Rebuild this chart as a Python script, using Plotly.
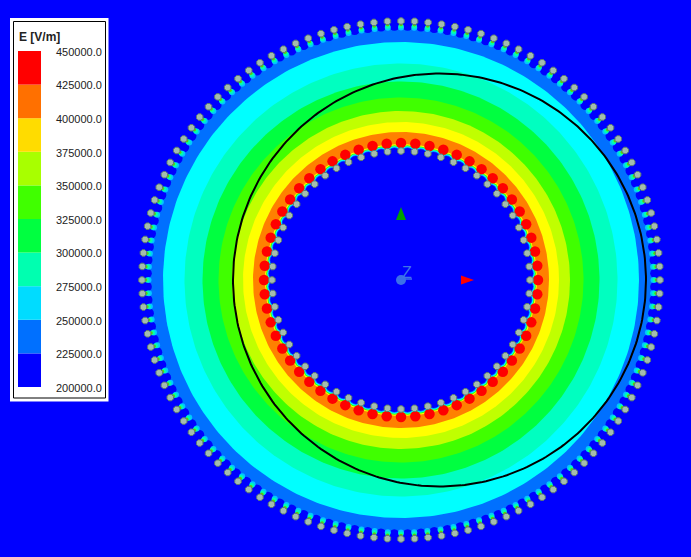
import numpy as np
import plotly.graph_objects as go

# Colour key
level_low = [200000, 225000, 250000, 275000, 300000, 325000, 350000, 375000, 400000, 425000]
level_colors = ["#0000ff", "#0070ff", "#00dcff", "#00ffb0", "#00ff40", "#40ff00", "#a8ff00", "#ffdc00", "#ff7000", "#ff0000"]
level_ticks = [200000, 225000, 250000, 275000, 300000, 325000, 350000, 375000, 400000, 425000, 450000]
label_nudge = 750  # labels sit about a pixel under their colour-band edges

# Field bands: outer radius (px in the view) of each filled ring, outermost first
band_radii = [254, 238, 216.5, 198.5, 182.5, 169, 158, 148]
band_colors = ["#0070ff", "#00ffff", "#00ffc0", "#00ff40", "#40ff00", "#c0ff00", "#ffff00", "#ff8000"]
hole_radius = 127
center = (401, 280)

# Tooth rings
outer_count = 120
outer_radius = 259
inner_count = 60
inner_gray_radius = 129
inner_red_radius = 137

# Overlaid outline
ring_center = (439.5, 280)
ring_radius = 206.5

# Triad arrow heads and Z stem: x list, y list
green_head = ([396, 401, 406], [220, 207, 220])
red_head = ([461, 474, 461], [275.5, 280, 284.5])
z_stem = ([401, 412], [279, 279])

W, H = 691, 557


def circle(c, r):
    t = np.linspace(0, 2 * np.pi, 361)
    return c[0] + r * np.cos(t), c[1] + r * np.sin(t)


def spokes(c, r, n, offset=0.0):
    t = np.pi / 2 + (np.arange(n) + offset) * 2 * np.pi / n
    return c[0] + r * np.cos(t), c[1] - r * np.sin(t)


def poly(x, y, color):
    return go.Scatter(x=x, y=y, mode="lines", fill="toself", fillcolor=color,
                      line=dict(width=0), hoverinfo="skip", showlegend=False)


def disc(c, r, color):
    x, y = circle(c, r)
    return poly(x, y, color)


def dots(xy, size, color, symbol="circle", line=None):
    return go.Scatter(x=xy[0], y=xy[1], mode="markers", hoverinfo="skip", showlegend=False,
                      marker=dict(size=size, color=color, symbol=symbol,
                                  line=line or dict(width=0)))


fig = go.Figure()

for r, col in zip(band_radii, band_colors):
    fig.add_trace(disc(center, r, col))

# outer notches between teeth
fig.add_trace(dots(spokes(center, 254.5, outer_count, 0.5), 10.5, "#0000ff"))
# outer tooth tips
fig.add_trace(dots(spokes(center, 252.5, outer_count), 6, "#00c8ff"))
fig.add_trace(dots(spokes(center, 254, outer_count), 5, "#00ffb0"))
fig.add_trace(dots(spokes(center, 255.5, outer_count), 3.5, "#60d000"))

# inner scallops between slots
scallop_r = 126
for d, col in zip([20, 18, 16, 14], ["#ffff00", "#40ff00", "#00ffff", "#0070ff"]):
    fig.add_trace(dots(spokes(center, scallop_r, inner_count, 0.5), d, col))
fig.add_trace(disc(center, hole_radius, "#0000ff"))
fig.add_trace(dots(spokes(center, scallop_r, inner_count, 0.5), 12.5, "#0000ff"))

fig.add_trace(dots(spokes(center, inner_red_radius, inner_count), 10.5, "#ff0000"))
gray_line = dict(width=1, color="#5c7a70")
fig.add_trace(dots(spokes(center, inner_gray_radius, inner_count), 7, "#a4bcae", "octagon", gray_line))
fig.add_trace(dots(spokes(center, outer_radius, outer_count), 7, "#a4bcae", "octagon", gray_line))

# Outline circle
x, y = circle(ring_center, ring_radius)
fig.add_trace(go.Scatter(x=x, y=y, mode="lines", line=dict(color="#000000", width=2),
                         hoverinfo="skip", showlegend=False))

# Triad
fig.add_trace(poly(green_head[0], green_head[1], "#00a000"))
fig.add_trace(poly(red_head[0], red_head[1], "#ff0000"))
fig.add_trace(go.Scatter(x=z_stem[0], y=z_stem[1], mode="lines", line=dict(color="#3f74e8", width=1.5),
                         hoverinfo="skip", showlegend=False))
fig.add_trace(dots(([401], [280]), 10, "#3c70e8"))
fig.add_trace(go.Scatter(x=[407], y=[273.5], mode="text", text=["Z"], hoverinfo="skip", showlegend=False,
                         textfont=dict(family="Liberation Sans", size=16, color="#3f74e8")))

# Colour key as a stacked bar on its own axes
fig.add_trace(go.Bar(x=[0] * len(level_low), y=[25000] * len(level_low), base=level_low,
                     marker=dict(color=level_colors, line=dict(width=0)), width=1,
                     xaxis="x2", yaxis="y2", hoverinfo="skip", showlegend=False))

fig.update_layout(
    width=W, height=H, margin=dict(l=0, r=0, t=0, b=0, pad=0, autoexpand=False),
    paper_bgcolor="#0000ff", plot_bgcolor="rgba(0,0,0,0)", barmode="overlay",
    xaxis=dict(range=[0, W], domain=[0, 1], visible=False, fixedrange=True, automargin=False),
    yaxis=dict(range=[H, 0], domain=[0, 1], visible=False, fixedrange=True, automargin=False),
    xaxis2=dict(domain=[18 / W, 41 / W], range=[-0.5, 0.5], visible=False, anchor="y2", fixedrange=True,
                automargin=False),
    yaxis2=dict(domain=[(H - 388) / H, (H - 51) / H], range=[200000 - label_nudge, 450000], anchor="x2",
                side="right", tickmode="array", tickvals=[v - label_nudge for v in level_ticks],
                automargin=False, ticktext=[f"{v:.1f}" for v in level_ticks], ticklabelstandoff=14,
                showgrid=False, zeroline=False, showline=False, ticks="", fixedrange=True,
                tickfont=dict(family="Liberation Sans", size=11, color="#222222")),
    shapes=[
        dict(type="rect", x0=10, x1=108.5, y0=18, y1=401.5, xref="x", yref="y",
             fillcolor="#ffffff", line=dict(width=0), layer="below"),
        dict(type="rect", x0=13.5, x1=105.5, y0=21.5, y1=398, xref="x", yref="y",
             fillcolor="#ffffff", line=dict(width=1, color="#000000"), layer="below"),
    ],
    annotations=[
        dict(text="<b>E [V/m]</b>", x=16.5, y=36.5, xref="x", yref="y", xanchor="left", yanchor="middle",
             showarrow=False, font=dict(family="Liberation Sans", size=12, color="#222222")),
    ],
)

fig.write_html("out.html", config={"displayModeBar": False},
               post_script="document.body.style.margin='0';document.body.style.background='#0000ff';")
